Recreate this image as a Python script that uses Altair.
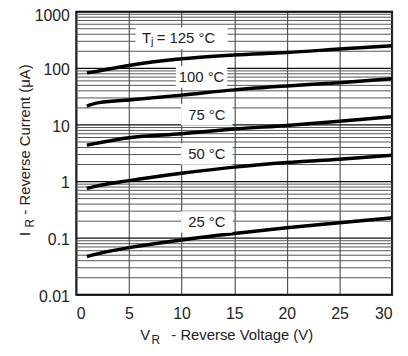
import altair as alt
import pandas as pd

# ---- data ----
volts = [1, 2, 5, 10, 15, 20, 25, 30]
i_125 = [83, 89, 112, 147, 172, 190, 219, 251]
i_100 = [21.5, 24.5, 27.5, 33.6, 41.6, 48.8, 55.8, 65.6]
i_75 = [4.4, 4.78, 5.95, 7.0, 8.45, 9.77, 11.6, 14.0]
i_50 = [0.76, 0.84, 1.04, 1.40, 1.80, 2.17, 2.48, 2.92]
i_25 = [0.0475, 0.0527, 0.068, 0.093, 0.121, 0.153, 0.187, 0.228]
temps = ["125", "100", "75", "50", "25"]

x_ticks = [0, 5, 10, 15, 20, 25, 30]
y_decades = [0.01, 0.1, 1, 10, 100, 1000]
y_minor = [m * d for d in [0.01, 0.1, 1, 10, 100] for m in [2, 3, 4, 5, 6, 7, 8, 9]]

label_text = ["100 °C", "75 °C", "50 °C", "25 °C"]
label_v = [11.9, 12.4, 12.4, 12.4]
label_i = [70.2, 15.2, 3.06, 0.193]
top_label_v = [10.0]
top_label_i = [337]

FONT = "Liberation Sans"
TXT = "#222222"

series = [i_125, i_100, i_75, i_50, i_25]
curves = pd.DataFrame(
    [{"T": t, "V": v, "I": i} for t, s in zip(temps, series) for v, i in zip(volts, s)]
)
minor_df = pd.DataFrame({"I": y_minor})
major_df = pd.DataFrame({"I": y_decades})
lab_df = pd.DataFrame({"V": label_v, "I": label_i, "txt": label_text})
top_df = pd.DataFrame({"V": top_label_v, "I": top_label_i})
one = pd.DataFrame({"k": [0]})

xs = alt.Scale(domain=[0, 30], nice=False, zero=False)
ys = alt.Scale(type="log", domain=[0.01, 1000], nice=False)

xaxis = alt.Axis(
    values=x_ticks, grid=True, gridColor="#333333", gridWidth=1, ticks=False,
    domain=False, labelFontSize=16, labelPadding=11, labelColor=TXT,
    labelFont=FONT, title=None, format="d")
yaxis = alt.Axis(
    values=y_decades, grid=False, ticks=False, domain=False, labelFontSize=16,
    labelPadding=7, labelColor=TXT, labelFont=FONT, format="~g", title=None,
    labelOffset={"condition": {"test": "datum.value >= 1000", "value": 4}, "value": 1.5})

X = alt.X("V:Q", scale=xs, axis=xaxis)
Y = alt.Y("I:Q", scale=ys, axis=yaxis)

minor = alt.Chart(minor_df).mark_rule(color="#555555", strokeWidth=1).encode(y=Y)
major = alt.Chart(major_df).mark_rule(color="#111111", strokeWidth=1.2).encode(y=Y)

lines = alt.Chart(curves).mark_line(
    color="black", strokeWidth=3.5, interpolate="monotone"
).encode(x=X, y=Y, detail="T:N")

box_small = "M -1 -0.42 L 1 -0.42 L 1 0.42 L -1 0.42 Z"
box_wide = "M -1 -0.237 L 1 -0.237 L 1 0.237 L -1 0.237 Z"

boxes = alt.Chart(lab_df).mark_point(
    shape=box_small, filled=True, fill="white", opacity=1, strokeWidth=0, size=2704
).encode(x=X, y=Y)

top_box = alt.Chart(top_df).mark_point(
    shape=box_wide, filled=True, fill="white", opacity=1, strokeWidth=0, size=8649
).encode(x=X, y=Y)

labels = alt.Chart(lab_df).mark_text(
    font=FONT, fontSize=15, color=TXT, align="center", baseline="middle"
).encode(x=X, y=Y, text="txt:N")


def top_part(text, dx, dy, size):
    return alt.Chart(top_df).mark_text(
        font=FONT, fontSize=size, color=TXT, align="left", baseline="middle", dx=dx, dy=dy
    ).encode(x=X, y=Y, text=alt.value(text))


top_labels = top_part("T", -40, 0, 15) + top_part("j", -31, 4, 11) + top_part("= 125 °C", -25, 0, 15)


def title_part(text, x, y, size, angle=0):
    kw = dict(font=FONT, fontSize=size, color=TXT, align="left", baseline="alphabetic")
    if angle:
        kw["angle"] = angle
    return alt.Chart(one).mark_text(**kw).encode(
        x=alt.value(x), y=alt.value(y), text=alt.value(text))


xtitle = (title_part("V", 64.7, 332, 15) + title_part("R", 76, 336, 12)
          + title_part("- Reverse Voltage (V)", 96, 332, 15))
ytitle = (title_part("I", -47, 226.7, 15, 270) + title_part("R", -43, 218, 12, 270)
          + title_part("- Reverse Current (μA)", -47, 205, 15, 270))

chart = alt.layer(
    minor, major, lines, top_box, boxes, labels, top_labels, xtitle, ytitle
).properties(
    width=319, height=286,
    autosize=alt.AutoSizeParams(type="none"),
    padding={"left": 69, "top": 2, "right": 8, "bottom": 52},
    background="white",
).configure_view(stroke="black", strokeWidth=2)

chart.save("out.html", embed_options={"renderer": "svg", "actions": False})
